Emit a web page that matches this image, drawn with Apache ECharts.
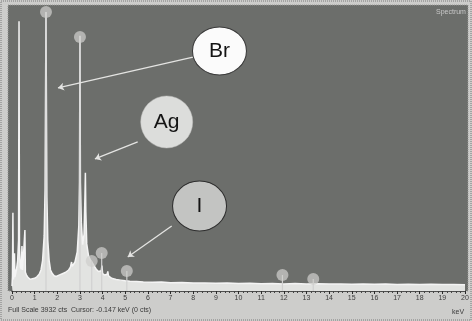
<!DOCTYPE html>
<html><head><meta charset="utf-8">
<script src="https://cdn.jsdelivr.net/npm/echarts@6/dist/echarts.min.js"></script>
<style>html,body{margin:0;padding:0;background:#cdcdcb;}#c{width:472px;height:321px;}</style>
</head><body><div id="c"></div>
<script>
// Spectrum (energy in keV, counts)
const energy = [0.00,0.02,0.04,0.06,0.09,0.11,0.13,0.16,0.20,0.25,0.29,0.31,0.33,0.37,0.41,0.44,0.47,0.51,0.55,0.57,0.59,0.64,0.70,0.80,0.90,1.00,1.10,1.20,1.28,1.35,1.42,1.46,1.50,1.54,1.58,1.64,1.70,1.78,1.86,1.95,2.05,2.20,2.35,2.50,2.58,2.63,2.66,2.70,2.78,2.88,2.95,2.98,3.00,3.02,3.06,3.12,3.18,3.22,3.24,3.26,3.30,3.38,3.46,3.54,3.62,3.72,3.82,3.90,3.94,3.97,4.00,4.10,4.20,4.23,4.26,4.40,4.60,4.80,5.00,5.20,5.50,5.80,6.20,6.60,7.00,7.50,8.00,8.50,9.00,9.50,10.0,10.5,11.0,11.5,12.0,12.5,13.0,13.5,14.0,14.5,15.0,15.5,16.0,16.5,17.0,17.5,18.0,18.5,19.0,19.5,20.0];
const counts = [70,200,1080,160,210,520,190,240,300,420,700,3720,600,330,300,620,290,270,300,840,260,220,190,160,170,175,195,230,290,420,760,1400,3850,1300,700,420,290,240,210,200,215,235,255,290,330,400,340,330,400,540,900,1500,3520,1500,950,640,780,1300,1630,1100,650,480,430,390,350,300,270,250,280,350,240,220,230,270,210,175,160,150,140,135,130,125,120,125,115,118,110,112,108,110,104,106,100,104,98,102,96,100,95,98,94,96,92,95,90,94,90,92,88,90,86];

// Element marker positions (keV) and heights (counts)
const markerE = [1.50,3.00,3.52,3.96,5.07,11.94,13.30];
const markerC = [3850,3505,414,524,276,221,166];

// Annotation labels, their positions, and arrow targets (data coords)
const labels = ['Br','Ag','I'];
const labelE = [9.16,6.83,8.28];
const labelC = [3312,2332,1173];
const arrowFromE = [8.04,5.55,7.05];
const arrowFromC = [3229,2056,897];
const arrowToE = [2.03,3.66,5.11];
const arrowToC = [2801,1822,469];

const xTicks = [0,1,2,3,4,5,6,7,8,9,10,11,12,13,14,15,16,17,18,19,20];

const chart = echarts.init(document.getElementById('c'), null, {renderer:'canvas'});
const font = '"Liberation Sans", Arial, sans-serif';

const labelStyles = [
  {fill:'#fbfbfb', stroke:'#3a3a3a', lw:1},
  {fill:'#dcdddb', stroke:'#c0c0be', lw:0.5},
  {fill:'#c3c4c2', stroke:'#2e2e2e', lw:1}
];
const labelSizes = [[54,48],[52,52],[54,50]];

chart.setOption({
  backgroundColor:'#cdcdcb',
  animation:false,
  grid:{left:12, right:7, top:6, bottom:30, containLabel:false},
  xAxis:{type:'value', min:0, max:20, interval:1,
    axisLine:{show:true, lineStyle:{color:'#2a2a2a', width:1.5}},
    axisTick:{show:true, length:3, lineStyle:{color:'#2a2a2a'}},
    minorTick:{show:true, splitNumber:5, length:2, lineStyle:{color:'#444'}},
    splitLine:{show:false},
    axisLabel:{color:'#3d3d3d', fontSize:7, margin:4, fontFamily:font,
      formatter:function(v){return xTicks.indexOf(v)>=0?String(v):'';}}
  },
  yAxis:{type:'value', min:0, max:3932, show:false, splitLine:{show:false}},
  graphic:[
    {type:'rect', z:-10, shape:{x:8,y:5,width:460,height:286}, style:{fill:'#6c6e6b'}},
    {type:'rect', z:-11, shape:{x:1,y:1,width:470,height:319}, style:{fill:'none', stroke:'#7a7a7a', lineWidth:1, lineDash:[1,1]}},
    {type:'rect', z:-9, shape:{x:8,y:5,width:460,height:286}, style:{fill:'none', stroke:'#9a9a98', lineWidth:1, lineDash:[1,1]}},
    {type:'text', left:436, top:9, style:{text:'Spectrum', fill:'#c8c8c8', font:'7px '+font}},
    {type:'text', left:8, top:307, style:{text:'Full Scale 3932 cts  Cursor: -0.147 keV (0 cts)', fill:'#3a3a3a', font:'7px '+font}},
    {type:'text', left:452, top:309, style:{text:'keV', fill:'#3a3a3a', font:'7px '+font}}
  ],
  series:[
    {type:'line', data:energy.map((e,i)=>[e,counts[i]]), symbol:'none', smooth:false,
      lineStyle:{color:'#f4f4f4', width:1.5}, areaStyle:{color:'#e2e3e1', opacity:1}, z:3},
    {type:'bar', data:markerE.map((e,i)=>[e,markerC[i]]), barWidth:1.2,
      itemStyle:{color:'#d0d0d0'}, z:4},
    {type:'scatter', data:markerE.map((e,i)=>[e,markerC[i]]), symbol:'circle', symbolSize:12,
      itemStyle:{color:'rgba(206,206,204,0.85)', opacity:0.85}, z:5},
    {type:'lines', coordinateSystem:'cartesian2d', z:6,
      symbol:['none','arrow'], symbolSize:6,
      lineStyle:{color:'#e4e4e2', width:1.3, opacity:1},
      data:arrowFromE.map((e,i)=>({coords:[[e,arrowFromC[i]],[arrowToE[i],arrowToC[i]]]}))},
    {type:'scatter', z:7,
      data:labels.map((t,i)=>({value:[labelE[i],labelC[i]], name:t,
        symbolSize:labelSizes[i],
        itemStyle:{color:labelStyles[i].fill, borderColor:labelStyles[i].stroke, borderWidth:labelStyles[i].lw, opacity:1}})),
      symbol:'circle',
      itemStyle:{opacity:1},
      label:{show:true, position:'inside', formatter:'{b}', color:'#141414', fontSize:21, fontFamily:font}
    }
  ]
});
</script></body></html>
